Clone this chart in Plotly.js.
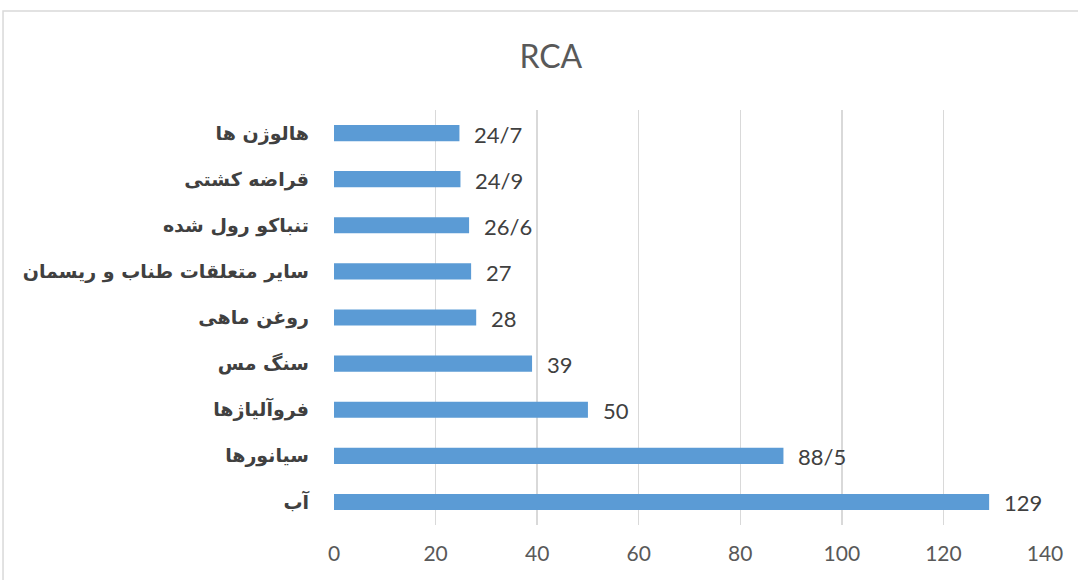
<!DOCTYPE html>
<html><head><meta charset="utf-8">
<script src="https://cdn.plot.ly/plotly-3.0.1.min.js"></script>
<style>html,body{margin:0;padding:0;background:#fff}#c{width:1078px;height:580px}</style>
</head><body><div id="c"></div>
<script>
const categories = ["هالوژن ها","قراضه کشتی","تنباکو رول شده","سایر متعلقات طناب و ریسمان","روغن ماهی","سنگ مس","فروآلیاژها","سیانورها","آب"];
const values = [24.7, 24.9, 26.6, 27, 28, 39, 50, 88.5, 129];
const valueLabels = ["24/7","24/9","26/6","27","28","39","50","88/5","129"];
const xTicks = [0,20,40,60,80,100,120,140];

const numFont = "Lato, Open Sans, Liberation Sans, Arial, sans-serif";
const trace = {
  type: 'bar', orientation: 'h', x: values, y: categories,
  marker: {color: '#5B9BD5'}, hoverinfo: 'none'
};
const annotations = values.map((v, i) => ({
  x: v, y: categories[i], xref: 'x', yref: 'y', text: valueLabels[i],
  showarrow: false, xanchor: 'left', xshift: 13, yshift: -1,
  font: {family: numFont, size: 22, color: '#404040'}
}));
const layout = {
  width: 1078, height: 580,
  margin: {l: 334, r: 33, t: 110, b: 55},
  paper_bgcolor: '#fff', plot_bgcolor: '#fff',
  showlegend: false, bargap: 0.65,
  title: {text: 'RCA', x: 0.511, xref: 'container', xanchor: 'center', y: 0.902, yref: 'container', yanchor: 'middle',
          font: {family: numFont, size: 32, color: '#595959'}},
  xaxis: {range: [0, 140], tickvals: xTicks, ticktext: xTicks.map(String),
          showgrid: true, gridcolor: '#d9d9d9', gridwidth: 1.3, zeroline: false,
          showline: false, ticks: '', ticklabelstandoff: 14,
          tickfont: {family: numFont, size: 21, color: '#595959'}, fixedrange: true},
  yaxis: {type: 'category', autorange: 'reversed', showgrid: false, zeroline: false,
          showline: false, ticks: '', ticklabelstandoff: 24,
          tickfont: {family: 'DejaVu Sans, Noto Sans, sans-serif', size: 19, color: '#404040', weight: 'bold'},
          fixedrange: true},
  annotations: annotations,
  shapes: [{type: 'rect', xref: 'paper', yref: 'paper', x0: -0.4655, x1: 1.06, y0: -0.25, y1: 1.2386,
            line: {color: '#d9d9d9', width: 1.5}, fillcolor: 'rgba(0,0,0,0)', layer: 'below'}]
};
Plotly.newPlot('c', [trace], layout, {staticPlot: true, displayModeBar: false});
</script></body></html>
